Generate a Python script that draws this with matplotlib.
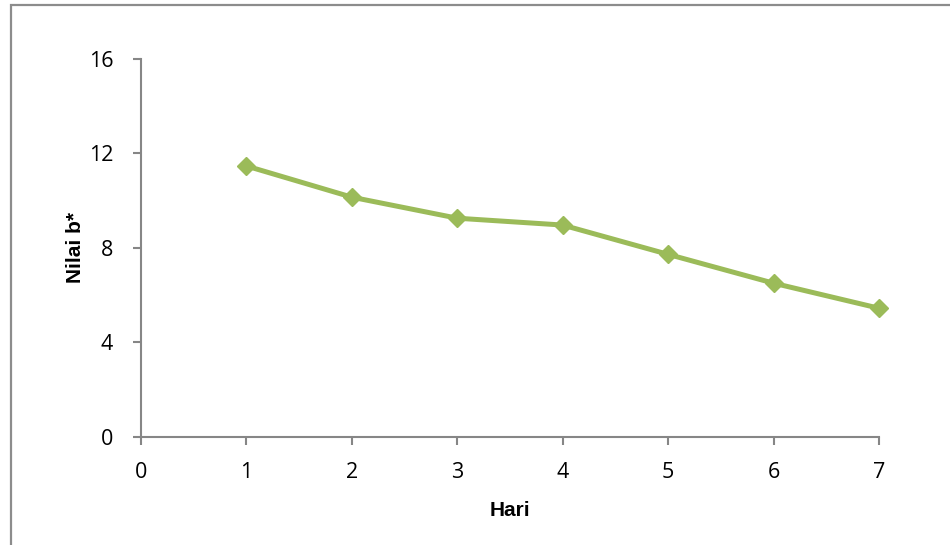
import matplotlib.pyplot as plt
from matplotlib.patches import Rectangle

# b* value per storage day
hari = [1, 2, 3, 4, 5, 6, 7]
nilai_b = [11.47, 10.15, 9.26, 8.97, 7.73, 6.51, 5.45]

x_ticks = [0, 1, 2, 3, 4, 5, 6, 7]
y_ticks = [0, 4, 8, 12, 16]

GREEN = "#9BBB59"
AXIS = "#868686"

fig = plt.figure(figsize=(9.5, 5.45), dpi=100)
ax = fig.add_axes([0.1484, 0.1982, 0.7768, 0.6936])

# chart-area frame (only left and top edges fall inside the canvas)
fig.patches.append(Rectangle((11 / 950, -0.1), 2, 1.1 - 5 / 545,
                             transform=fig.transFigure, fill=False,
                             edgecolor="#8c8c8c", linewidth=1.6))

ax.plot(hari, nilai_b, color=GREEN, linewidth=3.6, marker="D",
        markersize=9.5, markerfacecolor=GREEN, markeredgecolor=GREEN,
        clip_on=False, zorder=3)

ax.set_xlim(0, 7)
ax.set_ylim(0, 16)
ax.set_xticks(x_ticks)
ax.set_yticks(y_ticks)

for side in ("top", "right"):
    ax.spines[side].set_visible(False)
for side in ("left", "bottom"):
    ax.spines[side].set_color(AXIS)
    ax.spines[side].set_linewidth(1.5)

ax.tick_params(direction="out", length=6, width=1.5, color=AXIS,
               labelsize=15.5, labelcolor="black")
ax.tick_params(axis="x", pad=12)
ax.tick_params(axis="y", pad=14)
for lab in ax.get_xticklabels() + ax.get_yticklabels():
    lab.set_family("Open Sans")

ax.set_xlabel("Hari", fontsize=15, fontweight="bold",
              family="Liberation Sans", labelpad=13)
ax.set_ylabel("Nilai b*", fontsize=15, fontweight="bold",
              family="Liberation Sans", labelpad=3)

fig.savefig("out.png", dpi=100)
